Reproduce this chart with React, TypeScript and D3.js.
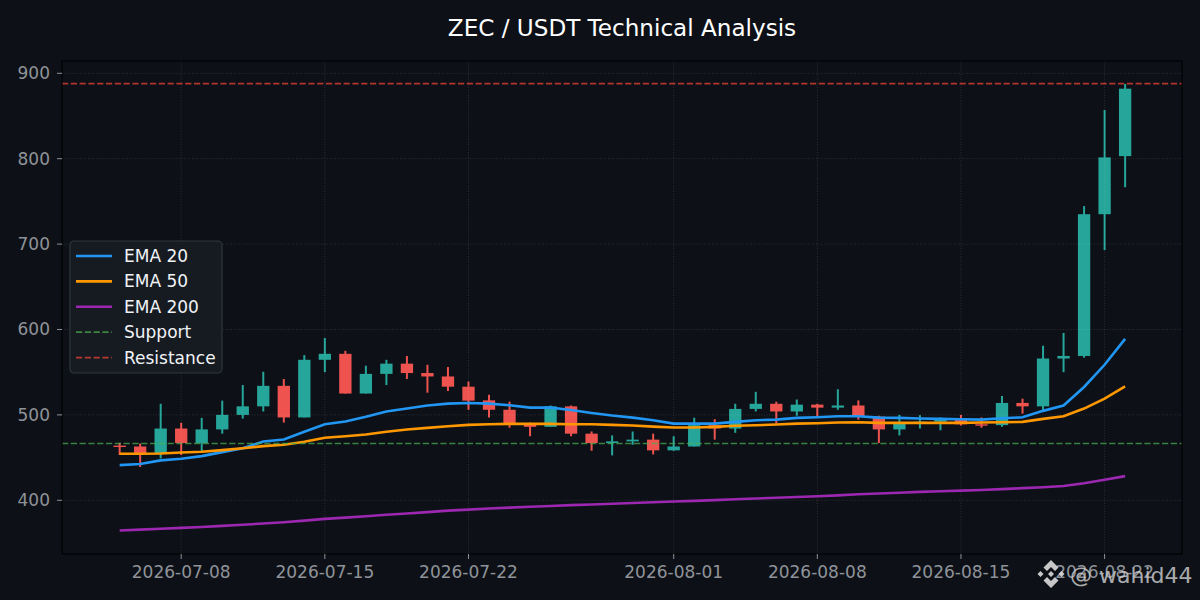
import { useEffect, useRef } from 'react'
import * as d3 from 'd3'

const startDate = '2026-07-05'

const opens = [464, 463, 455, 484, 467, 483, 500, 510, 534, 497, 564.5, 571.5, 525, 548, 560, 549, 545, 533, 517, 506, 490, 486, 510, 478, 467, 469, 471, 458.5, 463, 488, 484, 507, 513, 504, 512, 508.5, 511, 498, 483, 491, 492, 496, 489, 488, 514, 510, 566, 569, 735, 803]
const closes = [463, 453.6, 484, 467, 483, 500, 510, 534, 497, 564.5, 571.5, 525, 548, 560, 549, 545, 533, 516.7, 506, 490, 486, 510, 478, 467, 469, 471, 458.5, 463, 488, 484, 507, 513, 504, 512, 508.5, 511, 498, 483, 491, 492, 496, 489, 488, 514, 510, 566, 569, 735, 801.5, 882]
const highs = [467.3, 466.5, 513, 490.7, 496.5, 516.7, 535, 550.5, 542, 570, 590, 575, 557.6, 564.5, 569, 558.7, 556, 539, 523.7, 515.5, 491, 511, 511, 480.6, 476, 480.6, 478, 475, 496.7, 495, 513, 527, 515.5, 518, 513, 530, 517, 499, 500, 499.6, 497, 500, 497, 522, 519, 581, 596, 744.5, 857, 887.5]
const lows = [453, 439, 449, 453, 457.5, 478, 495.7, 504, 491, 497, 550, 525, 525, 535, 542, 526, 528, 506, 497, 485, 475, 486, 475, 458, 452.6, 465, 453.7, 458, 463, 471, 479, 504, 490, 499, 498, 506, 494.5, 467, 476, 484, 482, 487.6, 485, 486, 501.5, 505, 550, 567, 693, 766.6]

const ema20 = [441.2, 442.4, 446.7, 448.7, 451.7, 456.4, 461, 468.8, 471.2, 480.2, 489, 492.2, 497.7, 503.9, 507.4, 510.9, 513.2, 514, 513.2, 511.2, 508.5, 508.5, 505.8, 502.3, 499.2, 496.8, 493.7, 489.8, 489.8, 489.8, 491.8, 493.7, 494.5, 496.5, 497.2, 498.4, 498.4, 496.8, 496.5, 495.7, 495.3, 494.9, 494.5, 496, 497.2, 504.7, 510.9, 532.7, 558.7, 589]
const ema50 = [454.5, 454.5, 454.8, 456, 456.8, 458.7, 461, 463.4, 465, 468.5, 473.2, 475, 477, 480.2, 482.8, 484.8, 486.7, 488.3, 489, 489.5, 489.5, 489.5, 489, 489, 488.3, 487.5, 486.3, 485.2, 485.2, 486, 487.2, 487.9, 488.7, 489.8, 490.2, 491, 491.4, 490.7, 490.7, 490.7, 490.7, 490.7, 491, 491.4, 491.8, 495.3, 498.4, 507.4, 519, 533.4]
const ema200 = [364.6, 365.6, 366.6, 367.7, 368.8, 370, 371.4, 372.8, 374.3, 376.2, 378.2, 379.7, 381.3, 383, 384.5, 386.1, 387.9, 389.1, 390.3, 391.4, 392.5, 393.3, 394.3, 395.1, 396, 396.8, 397.7, 398.5, 399.3, 400.2, 401.2, 402.1, 402.9, 403.8, 404.7, 405.8, 407, 407.9, 408.9, 409.8, 410.6, 411.3, 412.1, 413.1, 414.2, 415.2, 416.7, 419.9, 424.1, 428.3]

const support = 466.5
const resistance = 888

const yTicks = [400, 500, 600, 700, 800, 900]
const xTicks = ['2026-07-08', '2026-07-15', '2026-07-22', '2026-08-01', '2026-08-08', '2026-08-15', '2026-08-22']

const BG = '#0d1117'
const UP = '#26a69a'
const DOWN = '#ef5350'
const TICK = '#8f9399'
const FONT = '"DejaVu Sans", sans-serif'

const parse = d3.utcParse('%Y-%m-%d')

export default function App() {
  const svgRef = useRef<SVGSVGElement>(null)

  useEffect(() => {
    if (!svgRef.current) return

    const svg = d3.select(svgRef.current)
    svg.selectAll('*').remove()

    const box = { left: 62, right: 1182, top: 61, bottom: 554 }

    const start = parse(startDate)!
    const dates = opens.map((_, i) => d3.utcDay.offset(start, i))

    const x = d3.scaleUtc()
      .domain([parse(xTicks[0])!, parse(xTicks[6])!])
      .range([181.2, 1104.6])
    const y = d3.scaleLinear()
      .domain([337.1, 914.4])
      .range([box.bottom, box.top])

    svg.append('rect').attr('width', 1200).attr('height', 600).attr('fill', BG)

    // Title
    svg.append('text')
      .attr('x', 622)
      .attr('y', 36)
      .attr('text-anchor', 'middle')
      .attr('fill', '#ffffff')
      .style('font-size', '23.1px')
      .text('ZEC / USDT Technical Analysis')

    // Candles
    const dayW = x(d3.utcDay.offset(start, 1)) - x(start)
    const bodyW = dayW * 0.6
    const candles = svg.append('g')
    dates.forEach((d, i) => {
      const color = closes[i] >= opens[i] ? UP : DOWN
      const cx = x(d)
      candles.append('line')
        .attr('x1', cx).attr('x2', cx)
        .attr('y1', y(highs[i])).attr('y2', y(lows[i]))
        .attr('stroke', color)
        .attr('stroke-width', 2)
      const top = y(Math.max(opens[i], closes[i]))
      const bottom = y(Math.min(opens[i], closes[i]))
      candles.append('rect')
        .attr('x', cx - bodyW / 2)
        .attr('y', top)
        .attr('width', bodyW)
        .attr('height', Math.max(bottom - top, 1.4))
        .attr('fill', color)
    })

    // Grid sits on top of the candles but under the lines
    const grid = svg.append('g')
      .attr('stroke', '#ffffff')
      .attr('stroke-opacity', 0.16)
      .attr('stroke-width', 0.8)
      .attr('stroke-dasharray', '1 1.6')
    yTicks.forEach(t => {
      grid.append('line')
        .attr('x1', box.left).attr('x2', box.right)
        .attr('y1', y(t)).attr('y2', y(t))
    })
    xTicks.forEach(t => {
      const px = x(parse(t)!)
      grid.append('line')
        .attr('x1', px).attr('x2', px)
        .attr('y1', box.top).attr('y2', box.bottom)
    })

    // EMA lines
    const line = d3.line<number>()
      .x((_, i) => x(dates[i]))
      .y(v => y(v))
    const emas: [number[], string][] = [
      [ema20, '#2196f3'],
      [ema50, '#ff9800'],
      [ema200, '#9c27b0']
    ]
    emas.forEach(([values, color]) => {
      svg.append('path')
        .attr('d', line(values))
        .attr('fill', 'none')
        .attr('stroke', color)
        .attr('stroke-width', 2.6)
    })

    // Support / resistance
    const levels: [number, string][] = [[support, '#4caf50'], [resistance, '#f44336']]
    levels.forEach(([v, color]) => {
      svg.append('line')
        .attr('x1', box.left).attr('x2', box.right)
        .attr('y1', y(v)).attr('y2', y(v))
        .attr('stroke', color)
        .attr('stroke-opacity', 0.72)
        .attr('stroke-width', 1.7)
        .attr('stroke-dasharray', '6.2 2.6')
    })

    // Frame
    svg.append('rect')
      .attr('x', box.left).attr('y', box.top)
      .attr('width', box.right - box.left)
      .attr('height', box.bottom - box.top)
      .attr('fill', 'none')
      .attr('stroke', '#000000')
      .attr('stroke-width', 1.1)

    // Axes
    const yAxis = svg.append('g')
    yTicks.forEach(t => {
      yAxis.append('line')
        .attr('x1', box.left - 5).attr('x2', box.left)
        .attr('y1', y(t)).attr('y2', y(t))
        .attr('stroke', TICK)
        .attr('stroke-width', 1)
      yAxis.append('text')
        .attr('x', box.left - 12)
        .attr('y', y(t) + 6)
        .attr('text-anchor', 'end')
        .attr('fill', TICK)
        .style('font-size', '17px')
        .text(t)
    })
    const xAxis = svg.append('g')
    xTicks.forEach(t => {
      const px = x(parse(t)!)
      xAxis.append('line')
        .attr('x1', px).attr('x2', px)
        .attr('y1', box.bottom).attr('y2', box.bottom + 5)
        .attr('stroke', TICK)
        .attr('stroke-width', 1)
      xAxis.append('text')
        .attr('x', px)
        .attr('y', box.bottom + 24)
        .attr('text-anchor', 'middle')
        .attr('fill', TICK)
        .style('font-size', '17px')
        .text(t)
    })

    // Legend
    const legend = svg.append('g').attr('transform', 'translate(70,241)')
    legend.append('rect')
      .attr('width', 152)
      .attr('height', 132)
      .attr('rx', 4)
      .attr('fill', '#161b22')
      .attr('stroke', '#30363d')
      .attr('stroke-width', 1.2)
    const legendItems: [string, string, number, boolean][] = [
      ['EMA 20', '#2196f3', 1, false],
      ['EMA 50', '#ff9800', 1, false],
      ['EMA 200', '#9c27b0', 1, false],
      ['Support', '#4caf50', 0.72, true],
      ['Resistance', '#f44336', 0.72, true]
    ]
    legendItems.forEach(([label, color, opacity, dashed], i) => {
      const ly = 15 + i * 25.4
      const key = legend.append('line')
        .attr('x1', 6).attr('x2', 42)
        .attr('y1', ly).attr('y2', ly)
        .attr('stroke', color)
        .attr('stroke-opacity', opacity)
        .attr('stroke-width', dashed ? 1.7 : 2.6)
      if (dashed) key.attr('stroke-dasharray', '6.2 2.6')
      legend.append('text')
        .attr('x', 54)
        .attr('y', ly + 6)
        .attr('fill', '#f0f3f6')
        .style('font-size', '17px')
        .text(label)
    })

    // Watermark
    const mark = svg.append('g')
      .attr('transform', 'translate(1051,574)')
      .attr('fill', '#dcdcdc')
      .attr('opacity', 0.9)
    mark.append('path')
      .attr('d', 'M0,-14 L7.5,-6.5 L4,-3 L0,-7 L-4,-3 L-7.5,-6.5 Z M0,14 L7.5,6.5 L4,3 L0,7 L-4,3 L-7.5,6.5 Z M-13.5,0 L-10.5,-3 L-7.5,0 L-10.5,3 Z M13.5,0 L10.5,-3 L7.5,0 L10.5,3 Z M0,-3 L3,0 L0,3 L-3,0 Z')
    svg.append('text')
      .attr('x', 1070)
      .attr('y', 583)
      .attr('fill', '#d0d0d0')
      .attr('opacity', 0.8)
      .style('font-size', '22px')
      .text('@ wahid44')
  }, [])

  return (
    <svg
      ref={svgRef}
      width={1200}
      height={600}
      style={{ position: 'absolute', left: 0, top: 0, fontFamily: FONT }}
    />
  )
}
